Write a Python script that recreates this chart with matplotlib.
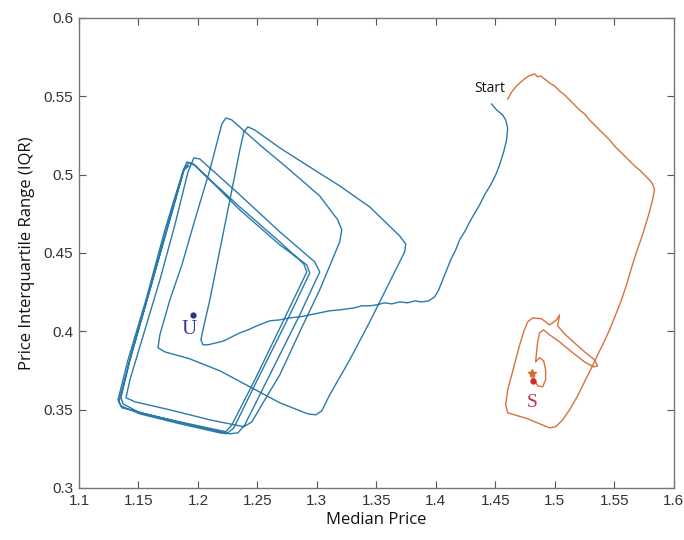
import matplotlib
matplotlib.use("Agg")
import matplotlib.pyplot as plt

# tick values / labels
x_ticks = [1.1, 1.15, 1.2, 1.25, 1.3, 1.35, 1.4, 1.45, 1.5, 1.55, 1.6]
x_tick_labels = ["1.1", "1.15", "1.2", "1.25", "1.3", "1.35", "1.4", "1.45", "1.5", "1.55", "1.6"]
y_ticks = [0.3, 0.35, 0.4, 0.45, 0.5, 0.55, 0.6]
y_tick_labels = ["0.3", "0.35", "0.4", "0.45", "0.5", "0.55", "0.6"]

# blue trajectory (median price, IQR)
blue_start = [
    (1.4469, 0.5451), (1.4511, 0.5413), (1.4562, 0.5381), (1.4587, 0.5349), (1.4604, 0.5298),
    (1.4595, 0.5222), (1.4570, 0.5145), (1.4536, 0.5062), (1.4503, 0.4998), (1.4461, 0.4935),
    (1.4410, 0.4871), (1.4368, 0.4807), (1.4318, 0.4743), (1.4284, 0.4698), (1.4251, 0.4647),
    (1.4200, 0.4584), (1.4167, 0.4520), (1.4125, 0.4456), (1.4091, 0.4392), (1.4058, 0.4328),
    (1.4024, 0.4265), (1.3990, 0.4220), (1.3940, 0.4194), (1.3881, 0.4188), (1.3822, 0.4194),
    (1.3764, 0.4182), (1.3696, 0.4188), (1.3629, 0.4175), (1.3570, 0.4182), (1.3503, 0.4169),
    (1.3444, 0.4163), (1.3377, 0.4163), (1.3318, 0.4150), (1.3251, 0.4143), (1.3192, 0.4137),
    (1.3108, 0.4131), (1.3024, 0.4118), (1.2940, 0.4105), (1.2856, 0.4092), (1.2772, 0.4086),
    (1.2688, 0.4073), (1.2604, 0.4067), (1.2537, 0.4048), (1.2478, 0.4029), (1.2420, 0.4009),
    (1.2352, 0.3990), (1.2285, 0.3965), (1.2218, 0.3939), (1.2151, 0.3926), (1.2084, 0.3914),
    (1.2042, 0.3914), (1.2025, 0.3946),
]
blue_rise = [
    (1.2042, 0.4009), (1.2100, 0.4201), (1.2159, 0.4424), (1.2226, 0.4679), (1.2294, 0.4935),
    (1.2352, 0.5158), (1.2386, 0.5273), (1.2420, 0.5305), (1.2478, 0.5285),
]
blue_loop_a = [
    (1.2688, 0.5171), (1.2940, 0.5049), (1.3192, 0.4928), (1.3444, 0.4794), (1.3696, 0.4609),
    (1.3747, 0.4558), (1.3738, 0.4507), (1.3612, 0.4316), (1.3444, 0.4060), (1.3276, 0.3818),
    (1.3108, 0.3595), (1.3041, 0.3492), (1.2991, 0.3467), (1.2924, 0.3473), (1.2688, 0.3544),
    (1.2436, 0.3646), (1.2184, 0.3748), (1.1932, 0.3824), (1.1722, 0.3869), (1.1664, 0.3895),
    (1.1680, 0.3978), (1.1764, 0.4201), (1.1865, 0.4424), (1.1974, 0.4711), (1.2100, 0.5030),
    (1.2201, 0.5324), (1.2235, 0.5362), (1.2285, 0.5349),
]
blue_loop_b = [
    (1.2520, 0.5190), (1.2772, 0.5030), (1.3024, 0.4864), (1.3176, 0.4711), (1.3209, 0.4647),
    (1.3192, 0.4571), (1.3024, 0.4265), (1.2856, 0.3997), (1.2688, 0.3722), (1.2537, 0.3531),
    (1.2453, 0.3422), (1.2386, 0.3391), (1.2100, 0.3435), (1.1764, 0.3499), (1.1470, 0.3550),
    (1.1395, 0.3576), (1.1428, 0.3690), (1.1554, 0.4009), (1.1680, 0.4328), (1.1806, 0.4679),
    (1.1916, 0.5017), (1.1966, 0.5107), (1.2016, 0.5100),
]
blue_loop_c = [
    (1.2352, 0.4871), (1.2688, 0.4635), (1.2982, 0.4443), (1.3024, 0.4379), (1.2856, 0.4105),
    (1.2604, 0.3722), (1.2394, 0.3403), (1.2336, 0.3352), (1.2268, 0.3346), (1.1932, 0.3403),
    (1.1596, 0.3467), (1.1361, 0.3512), (1.1336, 0.3550), (1.1428, 0.3818), (1.1596, 0.4265),
    (1.1764, 0.4711), (1.1882, 0.5030), (1.1924, 0.5075), (1.1974, 0.5062),
]
blue_loop_d = [
    (1.2352, 0.4775), (1.2688, 0.4552), (1.2915, 0.4424), (1.2940, 0.4373), (1.2772, 0.4105),
    (1.2520, 0.3722), (1.2302, 0.3384), (1.2243, 0.3346), (1.2184, 0.3352), (1.1848, 0.3410),
    (1.1512, 0.3473), (1.1353, 0.3524), (1.1328, 0.3563), (1.1412, 0.3818), (1.1563, 0.4201),
    (1.1722, 0.4647), (1.1874, 0.5024), (1.1907, 0.5081), (1.1958, 0.5068),
]
blue_loop_e = [
    (1.2352, 0.4794), (1.2688, 0.4571), (1.2890, 0.4430), (1.2915, 0.4379), (1.2730, 0.4086),
    (1.2478, 0.3690), (1.2285, 0.3403), (1.2235, 0.3359), (1.1848, 0.3422), (1.1512, 0.3480),
    (1.1370, 0.3537), (1.1353, 0.3576), (1.1428, 0.3818), (1.1596, 0.4265), (1.1748, 0.4679),
    (1.1882, 0.5030), (1.1924, 0.5056),
]

# orange trajectory
orange_path = [
    (1.4604, 0.5483), (1.4638, 0.5528), (1.4671, 0.5560), (1.4705, 0.5585), (1.4746, 0.5611),
    (1.4780, 0.5630), (1.4805, 0.5636), (1.4830, 0.5643), (1.4856, 0.5624), (1.4881, 0.5630),
    (1.4914, 0.5611), (1.4956, 0.5585), (1.4998, 0.5566), (1.5040, 0.5534), (1.5082, 0.5509),
    (1.5124, 0.5477), (1.5166, 0.5445), (1.5208, 0.5413), (1.5250, 0.5388), (1.5292, 0.5349),
    (1.5334, 0.5317), (1.5376, 0.5285), (1.5418, 0.5254), (1.5460, 0.5222), (1.5502, 0.5183),
    (1.5544, 0.5151), (1.5586, 0.5120), (1.5628, 0.5088), (1.5670, 0.5056), (1.5712, 0.5030),
    (1.5754, 0.4998), (1.5796, 0.4966), (1.5822, 0.4941), (1.5838, 0.4903), (1.5822, 0.4839),
    (1.5796, 0.4762), (1.5763, 0.4679), (1.5729, 0.4596), (1.5687, 0.4507), (1.5645, 0.4405),
    (1.5603, 0.4297), (1.5561, 0.4201), (1.5511, 0.4105), (1.5460, 0.4009), (1.5410, 0.3926),
    (1.5360, 0.3850), (1.5309, 0.3767), (1.5250, 0.3678), (1.5192, 0.3588), (1.5124, 0.3499),
    (1.5066, 0.3435), (1.5007, 0.3391), (1.4956, 0.3384), (1.4872, 0.3410), (1.4772, 0.3442),
    (1.4688, 0.3461), (1.4604, 0.3480), (1.4587, 0.3531), (1.4604, 0.3627), (1.4638, 0.3722),
    (1.4671, 0.3818), (1.4705, 0.3914), (1.4738, 0.3997), (1.4772, 0.4060), (1.4814, 0.4086),
    (1.4889, 0.4080), (1.4956, 0.4041), (1.5015, 0.4073), (1.5040, 0.4105), (1.5024, 0.4035),
    (1.5082, 0.3984), (1.5166, 0.3926), (1.5250, 0.3869), (1.5334, 0.3818), (1.5360, 0.3780),
    (1.5326, 0.3773), (1.5250, 0.3805), (1.5141, 0.3869), (1.5040, 0.3933), (1.4956, 0.3978),
    (1.4906, 0.4009), (1.4872, 0.3990), (1.4856, 0.3933), (1.4847, 0.3869), (1.4839, 0.3805),
    (1.4872, 0.3831), (1.4906, 0.3812), (1.4923, 0.3754), (1.4923, 0.3690), (1.4898, 0.3646),
    (1.4856, 0.3652), (1.4830, 0.3690), (1.4814, 0.3729), (1.4805, 0.3748), (1.4797, 0.3729),
    (1.4814, 0.3690),
]

u_point = (1.1958, 0.4105)
u_label = (1.1924, 0.4009)
s_point = (1.4814, 0.3684)
s_star = (1.4805, 0.3735)
s_label = (1.4814, 0.3544)
start_label = (1.4585, 0.5553)

BLUE = "#2b7aa8"
ORANGE = "#d8703f"

fig = plt.figure(figsize=(6.84, 5.4), dpi=100)
ax = fig.add_axes([0.1155, 0.0963, 0.8695, 0.8704])

blue_path = blue_start + blue_rise + blue_loop_a + blue_loop_b + blue_loop_c + blue_loop_d + blue_loop_e
bx, by = zip(*blue_path)
ax.plot(bx, by, color=BLUE, linewidth=1.0)

ox, oy = zip(*orange_path)
ax.plot(ox, oy, color=ORANGE, linewidth=1.0)

ax.plot(*u_point, "o", color="#2a3590", markersize=3.5)
ax.text(*u_label, "U", family="Liberation Serif", fontsize=15, color="#3a3c92",
        ha="center", va="center")
ax.plot(*s_star, "*", color="#d86a2a", markersize=6)
ax.plot(*s_point, "o", color="#cc2a2a", markersize=3.5)
ax.text(*s_label, "S", family="Liberation Serif", fontsize=14, color="#b8364c",
        ha="center", va="center")
ax.text(*start_label, "Start", family="Open Sans", fontsize=10, color="#111111",
        ha="right", va="center")

ax.set_xlim(1.1, 1.6)
ax.set_ylim(0.3, 0.6)
ax.set_xticks(x_ticks)
ax.set_xticklabels(x_tick_labels)
ax.set_yticks(y_ticks)
ax.set_yticklabels(y_tick_labels)

ax.tick_params(direction="in", length=5, width=0.8, color="#555555",
               top=True, right=True, labelsize=11, labelcolor="#333333", pad=4)
for lab in ax.get_xticklabels() + ax.get_yticklabels():
    lab.set_family("Liberation Sans")
for spine in ax.spines.values():
    spine.set_color("#777777")
    spine.set_linewidth(1.0)

ax.set_xlabel("Median Price", family="Open Sans", fontsize=12, color="#111111", labelpad=3)
ax.set_ylabel("Price Interquartile Range (IQR)", family="Open Sans", fontsize=12,
              color="#111111", labelpad=6)

fig.savefig("out.png", dpi=100, facecolor="white")
